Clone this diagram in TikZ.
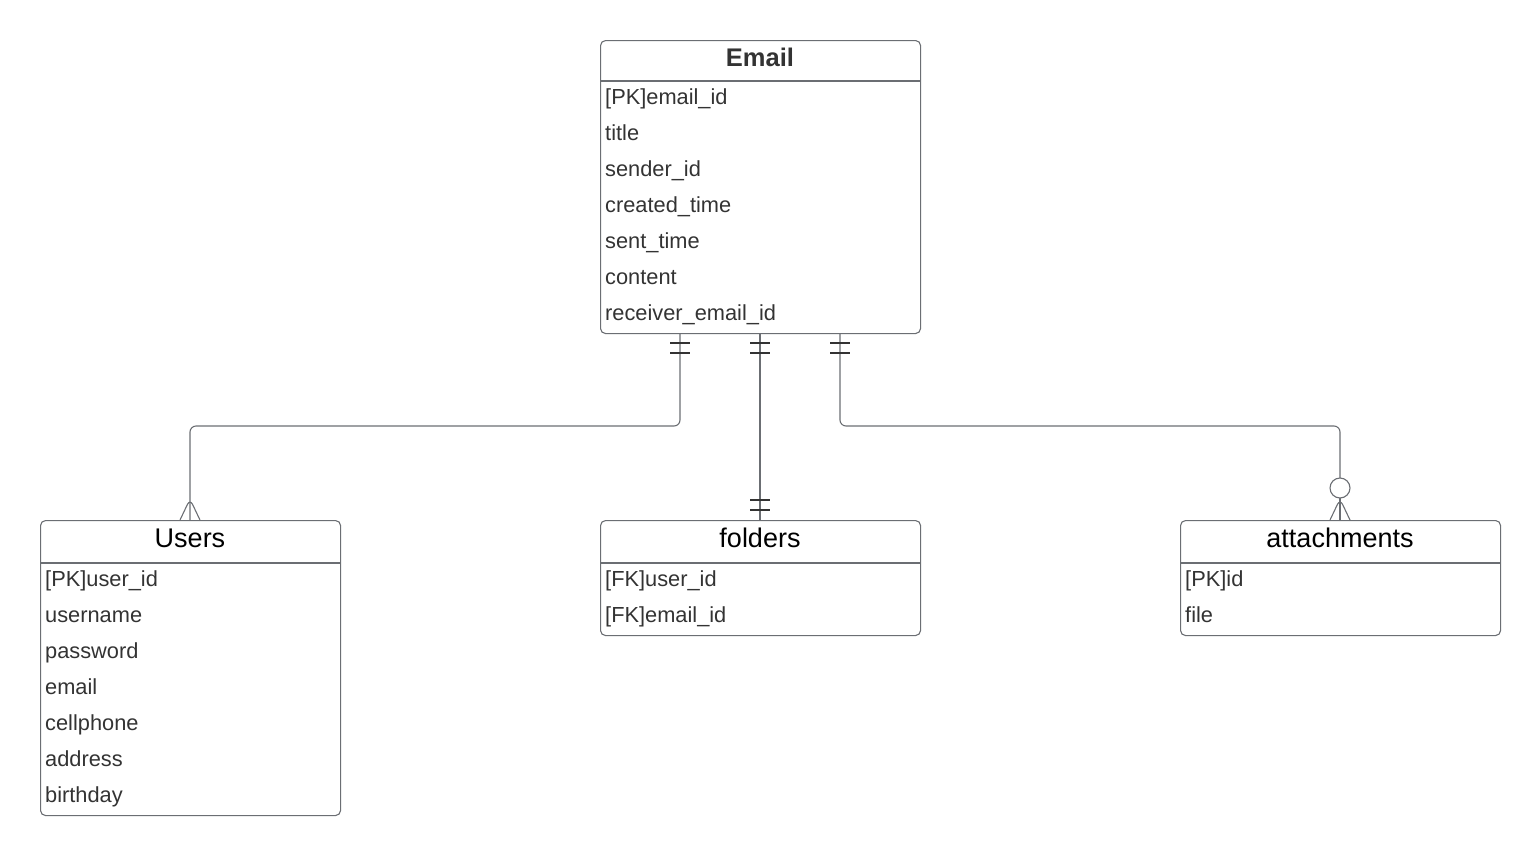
\documentclass[tikz,border=0pt]{standalone}
\usepackage{fontspec}
\setmainfont{Liberation Sans}
\usetikzlibrary{calc}
\definecolor{lncol}{HTML}{6B6E73}
\definecolor{txcol}{HTML}{333333}
\tikzset{
  entity/.style={draw=lncol, line width=1.1pt, rounded corners=5pt, anchor=north west, inner sep=0pt},
  ttl/.style={font=\fontsize{27}{30}\selectfont, text=black, anchor=base, inner sep=0pt},
  ttlb/.style={font=\fontsize{25.5}{30}\selectfont\bfseries, text=txcol, anchor=base, inner sep=0pt},
  attr/.style={font=\fontsize{21.8}{25}\selectfont, text=txcol, anchor=base west, inner sep=0pt},
  divline/.style={draw=lncol, line width=1.1pt},
  rel/.style={draw=lncol, line width=1.1pt, rounded corners=6pt},
  tick/.style={draw=txcol, line width=1.1pt}
}
\begin{document}
\begin{tikzpicture}[x=1pt,y=-1pt]
\useasboundingbox (0,0) rectangle (1540,855);
% Email
\node[entity, minimum width=320pt, minimum height=293pt] (email) at (600,40) {};
\node[ttlb] (emailT) at (760,66.5) {Email};
\draw[divline] (600,81) -- (920,81);
\node[attr] (e1) at (605,104.5) {[PK]email\_id};
\node[attr] (e2) at (605,140.5) {title};
\node[attr] (e3) at (605,176.5) {sender\_id};
\node[attr] (e4) at (605,212.5) {created\_time};
\node[attr] (e5) at (605,248.5) {sent\_time};
\node[attr] (e6) at (605,284.5) {content};
\node[attr] (e7) at (605,320.5) {receiver\_email\_id};
% Users
\node[entity, minimum width=300pt, minimum height=295pt] (users) at (40,520) {};
\node[ttl] (usersT) at (190,547.5) {Users};
\draw[divline] (40,563) -- (340,563);
\node[attr] (u1) at (45,586.5) {[PK]user\_id};
\node[attr] (u2) at (45,622.5) {username};
\node[attr] (u3) at (45,658.5) {password};
\node[attr] (u4) at (45,694.5) {email};
\node[attr] (u5) at (45,730.5) {cellphone};
\node[attr] (u6) at (45,766.5) {address};
\node[attr] (u7) at (45,802.5) {birthday};
% folders
\node[entity, minimum width=320pt, minimum height=115pt] (folders) at (600,520) {};
\node[ttl] (foldersT) at (760,547.5) {folders};
\draw[divline] (600,563) -- (920,563);
\node[attr] (f1) at (605,586.5) {[FK]user\_id};
\node[attr] (f2) at (605,622.5) {[FK]email\_id};
% attachments
\node[entity, minimum width=320pt, minimum height=115pt] (att) at (1180,520) {};
\node[ttl] (attT) at (1340,547.5) {attachments};
\draw[divline] (1180,563) -- (1500,563);
\node[attr] (a1) at (1185,586.5) {[PK]id};
\node[attr] (a2) at (1185,622.5) {file};
% connectors
\coordinate (eL) at (680,333);
\coordinate (eM) at (760,333);
\coordinate (eR) at (840,333);
\coordinate (uT) at (190,520);
\coordinate (fT) at (760,520);
\coordinate (aT) at (1340,520);
\draw[rel] (eL) -- (680,426) -- (190,426) -- (uT);
\draw[rel] (eM) -- (fT);
\draw[rel] (eR) -- (840,426) -- (1340,426) -- (1340,478);
\draw[rel] (1340,498) -- (aT);
% ticks at Email
\foreach \x in {680,760,840}{
  \draw[tick] (\x-10,343) -- (\x+10,343);
  \draw[tick] (\x-10,353) -- (\x+10,353);
}
% ticks at folders
\draw[tick] (750,500) -- (770,500);
\draw[tick] (750,510) -- (770,510);
% crow's foot at users
\draw[rel] (180,520) -- (190,499) -- (200,520);
% circle and crow's foot at attachments
\draw[draw=lncol, line width=1.1pt, fill=white] (1340,488) circle (10pt);
\draw[rel] (1330,520) -- (1340,499) -- (1350,520);
\end{tikzpicture}
\end{document}
